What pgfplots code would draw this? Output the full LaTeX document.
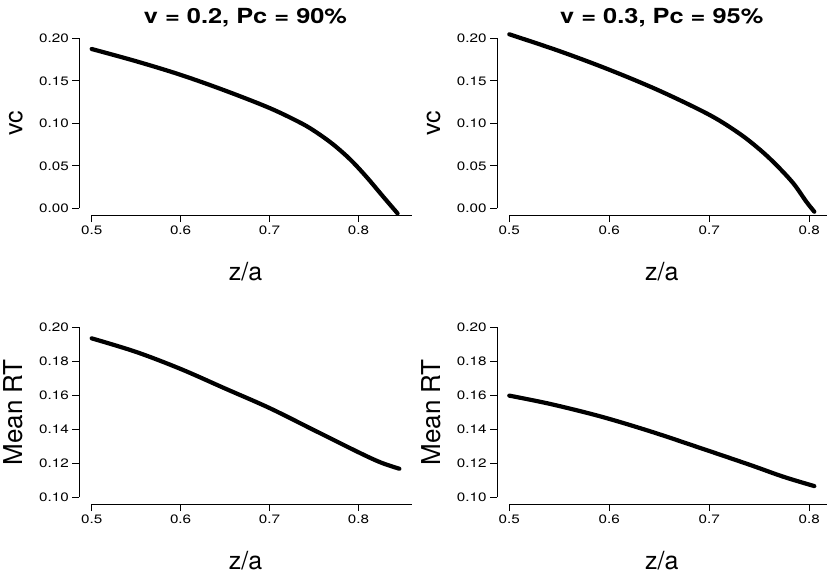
\documentclass[border=0pt]{standalone}
\usepackage{fontspec}
\setmainfont{TeX Gyre Heros}
\newfontfamily\tickfont{TeX Gyre Heros}[FakeStretch=1.25]
\newfontfamily\titlefont{TeX Gyre Heros}[FakeStretch=1.22]
\usepackage{pgfplots}
\pgfplotsset{compat=1.18}

\pgfplotsset{
  panel/.style={
    scale only axis,
    height=183.6pt,
    anchor=south west,
    axis x line*=bottom, axis y line*=left,
    axis line style={draw=none},
    tick align=outside,
    major tick length=7pt,
    tick style={black, line width=0.9pt},
    xtick={0.5,0.6,0.7,0.8},
    clip=false,
    /pgf/number format/assume math mode=true,
    tick label style={font=\tickfont\fontsize{12.2pt}{13pt}\selectfont},
    xticklabel style={/pgf/number format/.cd, fixed, precision=1},
    yticklabel style={/pgf/number format/.cd, fixed, fixed zerofill, precision=2},
    title style={font=\titlefont\bfseries\fontsize{20.8pt}{22pt}\selectfont,
                 at={(axis description cs:0.5,1)}, anchor=base, yshift=2.2pt},
    xlabel style={font=\fontsize{25pt}{26pt}\selectfont,
                  at={(axis description cs:0.5,0)}, anchor=base, yshift=-65pt},
    ylabel style={font=\fontsize{25pt}{26pt}\selectfont,
                  at={([xshift=-57pt]axis description cs:0,0.5)}, anchor=base},
    xlabel={z/a},
  },
  curve/.style={black, line width=4.2pt, line cap=round, line join=round, smooth, tension=0.55},
}

\begin{document}
\begin{tikzpicture}
\path[use as bounding box] (0pt,0pt) rectangle (828pt,576pt);

% top-left
\begin{axis}[panel, at={(79.4pt,360.9pt)}, width=332.2pt,
  xmin=0.48616, xmax=0.8598, ymin=-0.008, ymax=0.208,
  ytick={0,0.05,0.1,0.15,0.2},
  title={v = 0.2, Pc = 90\%}, ylabel={vc}]
\draw[line width=0.9pt] (axis cs:0.5,-0.008) -- (axis cs:0.8598,-0.008);
\draw[line width=0.9pt] (axis cs:0.48616,0) -- (axis cs:0.48616,0.2);
\addplot[curve] coordinates {
(0.500,0.1874) (0.550,0.1730) (0.600,0.1570) (0.650,0.1385) (0.700,0.1180)
(0.735,0.1005) (0.753,0.0892) (0.772,0.0748) (0.791,0.0572) (0.809,0.0370)
(0.828,0.0135) (0.844,-0.0060)};
\end{axis}

% top-right
\begin{axis}[panel, at={(497.1pt,360.9pt)}, width=329.4pt,
  xmin=0.4878, xmax=0.8172, ymin=-0.008, ymax=0.208,
  ytick={0,0.05,0.1,0.15,0.2},
  title={v = 0.3, Pc = 95\%}, ylabel={vc}]
\draw[line width=0.9pt] (axis cs:0.5,-0.008) -- (axis cs:0.8172,-0.008);
\draw[line width=0.9pt] (axis cs:0.4878,0) -- (axis cs:0.4878,0.2);
\addplot[curve] coordinates {
(0.500,0.2047) (0.550,0.1850) (0.600,0.1630) (0.650,0.1384) (0.700,0.1100)
(0.730,0.0880) (0.751,0.0686) (0.767,0.0510) (0.784,0.0294) (0.797,0.0078)
(0.805,-0.0040)};
\end{axis}

% bottom-left
\begin{axis}[panel, at={(79.4pt,71.9pt)}, width=332.2pt,
  xmin=0.48616, xmax=0.8598, ymin=0.096, ymax=0.204,
  ytick={0.1,0.12,0.14,0.16,0.18,0.2},
  ylabel={Mean RT}, ylabel style={font=\fontsize{26pt}{27pt}\selectfont}]
\draw[line width=0.9pt] (axis cs:0.5,0.096) -- (axis cs:0.8598,0.096);
\draw[line width=0.9pt] (axis cs:0.48616,0.1) -- (axis cs:0.48616,0.2);
\addplot[curve] coordinates {
(0.500,0.1935) (0.550,0.1855) (0.600,0.1755) (0.650,0.1640) (0.700,0.1525)
(0.750,0.1395) (0.800,0.1265) (0.825,0.1205) (0.846,0.1168)};
\end{axis}

% bottom-right
\begin{axis}[panel, at={(497.1pt,71.9pt)}, width=329.4pt,
  xmin=0.4878, xmax=0.8172, ymin=0.096, ymax=0.204,
  ytick={0.1,0.12,0.14,0.16,0.18,0.2},
  ylabel={Mean RT}, ylabel style={font=\fontsize{26pt}{27pt}\selectfont}]
\draw[line width=0.9pt] (axis cs:0.5,0.096) -- (axis cs:0.8172,0.096);
\draw[line width=0.9pt] (axis cs:0.4878,0.1) -- (axis cs:0.4878,0.2);
\addplot[curve] coordinates {
(0.500,0.1598) (0.541,0.1549) (0.591,0.1476) (0.641,0.1388) (0.691,0.1290)
(0.741,0.1190) (0.774,0.1121) (0.805,0.1066)};
\end{axis}
\end{tikzpicture}
\end{document}
